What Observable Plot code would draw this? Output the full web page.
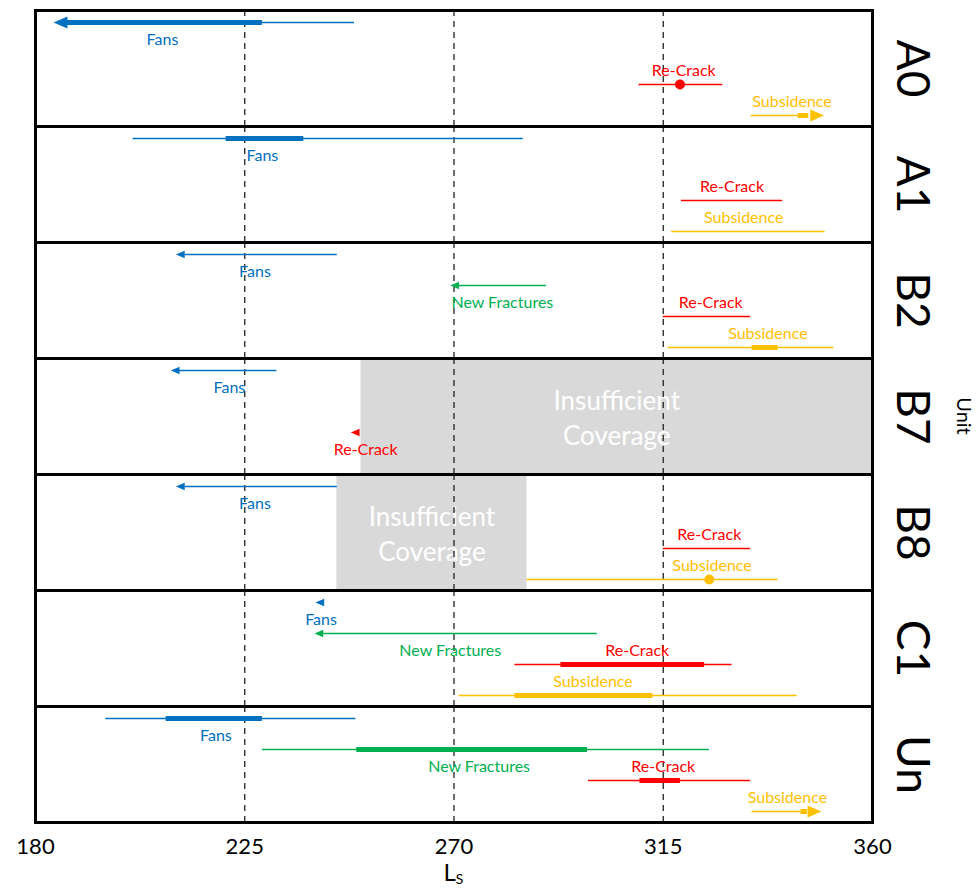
<!DOCTYPE html>
<html>
<head>
<meta charset="utf-8">
<script src="https://cdn.jsdelivr.net/npm/d3@7"></script>
<script src="https://cdn.jsdelivr.net/npm/@observablehq/plot@0.6"></script>
<style>
  body { margin: 0; background: white; }
  #chart { width: 976px; height: 889px; }
</style>
</head>
<body>
<div id="chart"></div>
<script>
const units = ["A0", "A1", "B2", "B7", "B8", "C1", "Un"];
const categories = ["Fans", "New Fractures", "Re-Crack", "Subsidence"];
const catColors = ["#0070C0", "#00B050", "#FF0000", "#FFC000"];
const xTicks = [180, 225, 270, 315, 360];
const guideLs = [225, 270, 315];

// one entry per interval
const itemUnit = ["A0","A0","A0", "A1","A1","A1", "B2","B2","B2","B2", "B7","B7", "B8","B8","B8", "C1","C1","C1","C1", "Un","Un","Un","Un"];
const itemCat = ["Fans","Re-Crack","Subsidence", "Fans","Re-Crack","Subsidence", "Fans","New Fractures","Re-Crack","Subsidence", "Fans","Re-Crack", "Fans","Re-Crack","Subsidence", "Fans","New Fractures","Re-Crack","Subsidence", "Fans","New Fractures","Re-Crack","Subsidence"];
const thinStart  = [186.9,309.8,333.9, 201.0,318.9,316.8, 211.8,271.0,315.0,316.0, 211.0,null, 211.8,315.0,285.7, null,242.0,283.1,271.1, 195.1,228.8,298.9,334.1];
const thinEnd    = [248.6,327.8,344.0, 284.9,340.7,349.8, 244.9,289.9,333.8,351.7, 231.9,null, 244.9,333.8,339.7, null,300.8,329.8,343.8, 248.9,324.9,333.8,344.6];
const thickStart = [186.9,null,344.0, 221.0,null,null, null,null,null,334.1, null,null, null,null,null, null,null,293.0,283.1, 208.1,249.1,310.0,344.6];
const thickEnd   = [228.8,null,346.3, 237.7,null,null, null,null,null,339.7, null,null, null,null,null, null,null,323.9,312.8, 228.8,298.7,318.7,346.0];
const arrowTip   = [183.9,null,349.6, null,null,null, 210.2,269.2,null,null, 209.1,247.8, 210.2,null,null, 240.2,240.0,null,null, null,null,null,349.0];
const pointLs    = [null,318.6,null, null,null,null, null,null,null,null, null,null, null,null,324.9, null,null,null,null, null,null,null,null];
const labelLs    = [207.3,319.4,342.7, 228.8,329.8,332.3, 227.2,280.4,325.2,337.5, 221.7,251.0, 227.2,324.9,325.5, 241.4,269.2,309.4,299.9, 218.8,275.4,315.0,341.7];
const labelBelow = [true,false,false, true,false,false, true,true,false,false, true,true, true,false,false, true,true,false,false, true,true,false,false];

// insufficient coverage blocks
const coverUnit = ["B7", "B8"];
const coverStart = [250.0, 244.8];
const coverEnd = [360.0, 285.7];

const items = itemUnit.map((u, i) => ({
  unit: u, cat: itemCat[i],
  thin1: thinStart[i], thin2: thinEnd[i],
  thick1: thickStart[i], thick2: thickEnd[i],
  tip: arrowTip[i], point: pointLs[i], label: labelLs[i], below: labelBelow[i]
}));
const covers = coverUnit.map((u, i) => ({unit: u, x1: coverStart[i], x2: coverEnd[i], mid: (coverStart[i] + coverEnd[i]) / 2}));

const withTip = items.filter(d => d.tip != null);
const isRight = d => d.thin2 != null && d.tip > d.thin2;
const isBig = d => d.thick1 != null && (Math.abs(d.thick1 - d.tip) < 5 || Math.abs(d.thick2 - d.tip) < 5);

const leftHead = {draw(ctx, size) { const r = Math.sqrt(size / Math.PI); ctx.moveTo(0, 0); ctx.lineTo(2.3 * r, -r); ctx.lineTo(2.3 * r, r); ctx.closePath(); }};
const rightHead = {draw(ctx, size) { const r = Math.sqrt(size / Math.PI); ctx.moveTo(0, 0); ctx.lineTo(-2.3 * r, -r); ctx.lineTo(-2.3 * r, r); ctx.closePath(); }};

const font = "Lato, 'Open Sans', sans-serif";

const plot = Plot.plot({
  width: 976,
  height: 889,
  marginLeft: 35,
  marginRight: 104,
  marginTop: 10,
  marginBottom: 67,
  style: {background: "white", fontFamily: font},
  x: {domain: [180, 360], ticks: xTicks, tickSize: 0, tickPadding: 16, label: null, tickFormat: d => String(d)},
  y: {type: "point", domain: categories, padding: 0.37, axis: null},
  fy: {domain: units, padding: 0, axis: null},
  color: {domain: categories, range: catColors},
  marks: [
    Plot.rect(covers, {x1: "x1", x2: "x2", fy: "unit", fill: "#D9D9D9"}),
    Plot.text(covers, {x: "mid", fy: "unit", text: d => "Insufficient\nCoverage", fill: "white", fontSize: 26, lineHeight: 1.33, frameAnchor: "middle"}),
    Plot.ruleX(guideLs, {stroke: "#222", strokeWidth: 1.3, strokeDasharray: "6,5"}),
    Plot.ruleY(items.filter(d => d.thin1 != null), {y: "cat", x1: "thin1", x2: "thin2", fy: "unit", stroke: "cat", strokeWidth: 1.6}),
    Plot.ruleY(items.filter(d => d.thick1 != null), {y: "cat", x1: "thick1", x2: "thick2", fy: "unit", stroke: "cat", strokeWidth: 5}),
    Plot.dot(items.filter(d => d.point != null), {x: "point", y: "cat", fy: "unit", fill: "cat", r: 5, stroke: null}),
    Plot.dot(withTip.filter(d => !isRight(d) && isBig(d)), {x: "tip", y: "cat", fy: "unit", fill: "cat", symbol: leftHead, r: 6, stroke: null}),
    Plot.dot(withTip.filter(d => !isRight(d) && !isBig(d)), {x: "tip", y: "cat", fy: "unit", fill: "cat", symbol: leftHead, r: 3.8, stroke: null}),
    Plot.dot(withTip.filter(d => isRight(d) && isBig(d)), {x: "tip", y: "cat", fy: "unit", fill: "cat", symbol: rightHead, r: 6, stroke: null}),
    Plot.dot(withTip.filter(d => isRight(d) && !isBig(d)), {x: "tip", y: "cat", fy: "unit", fill: "cat", symbol: rightHead, r: 3.8, stroke: null}),
    Plot.text(items.filter(d => d.below), {x: "label", y: "cat", fy: "unit", text: "cat", fill: "cat", fontSize: 16, dy: 17}),
    Plot.text(items.filter(d => !d.below), {x: "label", y: "cat", fy: "unit", text: "cat", fill: "cat", fontSize: 16, dy: -14}),
    Plot.frame({stroke: "black", strokeWidth: 3}),
    Plot.text(units, {fy: d => d, text: d => d, frameAnchor: "right", textAnchor: "middle", dx: 39, rotate: 90, fontSize: 46, fill: "black"})
  ]
});

const svg = d3.select(plot);
svg.selectAll("g[aria-label='x-axis tick label']").attr("font-size", 22).attr("fill", "black");
const xs = plot.scale("x");
const ls = svg.append("text")
  .attr("x", xs.apply(270))
  .attr("y", 881)
  .attr("text-anchor", "middle")
  .attr("font-family", font)
  .attr("font-size", 24)
  .attr("fill", "black");
ls.append("tspan").text("L");
ls.append("tspan").attr("font-size", 14).attr("dy", 3).text("S");
svg.append("text")
  .attr("transform", "translate(962,416) rotate(90)")
  .attr("text-anchor", "middle")
  .attr("dominant-baseline", "middle")
  .attr("font-family", font)
  .attr("font-size", 20)
  .attr("fill", "black")
  .text("Unit");

document.getElementById("chart").appendChild(plot);
</script>
</body>
</html>
